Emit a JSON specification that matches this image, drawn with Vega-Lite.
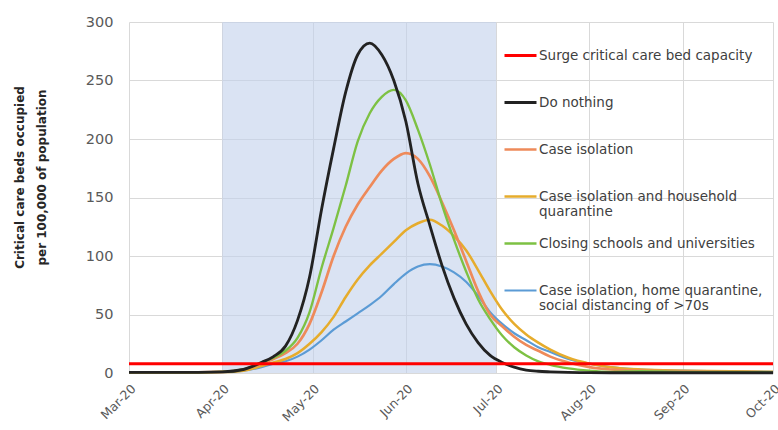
{
  "$schema": "https://vega.github.io/schema/vega-lite/v6.json",
  "width": 644,
  "height": 351,
  "autosize": {"type": "none"},
  "padding": {"left": 129, "top": 22, "right": 5, "bottom": 57},
  "config": {"font": "DejaVu Sans", "view": {"stroke": null}},
  "layer": [
    {
      "data": {"values": [{"a": "2020-04-01", "b": "2020-07-01"}]},
      "mark": {"type": "rect", "color": "#C1D0EB", "opacity": 0.6},
      "encoding": {
        "x": {"field": "a", "type": "temporal", "scale": {"type": "utc"}},
        "x2": {"field": "b"}
      }
    },
    {
      "data": {"values": [
        {"d":"2020-03-01","s":"Case isolation, home quarantine, social distancing of >70s","v":0.3},
        {"d":"2020-03-16","s":"Case isolation, home quarantine, social distancing of >70s","v":0.3},
        {"d":"2020-04-01","s":"Case isolation, home quarantine, social distancing of >70s","v":0.8},
        {"d":"2020-04-08","s":"Case isolation, home quarantine, social distancing of >70s","v":2},
        {"d":"2020-04-14","s":"Case isolation, home quarantine, social distancing of >70s","v":5},
        {"d":"2020-04-18","s":"Case isolation, home quarantine, social distancing of >70s","v":8},
        {"d":"2020-04-22","s":"Case isolation, home quarantine, social distancing of >70s","v":10},
        {"d":"2020-04-26","s":"Case isolation, home quarantine, social distancing of >70s","v":14},
        {"d":"2020-04-30","s":"Case isolation, home quarantine, social distancing of >70s","v":20},
        {"d":"2020-05-04","s":"Case isolation, home quarantine, social distancing of >70s","v":28},
        {"d":"2020-05-08","s":"Case isolation, home quarantine, social distancing of >70s","v":37},
        {"d":"2020-05-12","s":"Case isolation, home quarantine, social distancing of >70s","v":44},
        {"d":"2020-05-16","s":"Case isolation, home quarantine, social distancing of >70s","v":51},
        {"d":"2020-05-20","s":"Case isolation, home quarantine, social distancing of >70s","v":58},
        {"d":"2020-05-24","s":"Case isolation, home quarantine, social distancing of >70s","v":66},
        {"d":"2020-05-28","s":"Case isolation, home quarantine, social distancing of >70s","v":76},
        {"d":"2020-06-01","s":"Case isolation, home quarantine, social distancing of >70s","v":85},
        {"d":"2020-06-05","s":"Case isolation, home quarantine, social distancing of >70s","v":91},
        {"d":"2020-06-09","s":"Case isolation, home quarantine, social distancing of >70s","v":93},
        {"d":"2020-06-13","s":"Case isolation, home quarantine, social distancing of >70s","v":91},
        {"d":"2020-06-17","s":"Case isolation, home quarantine, social distancing of >70s","v":86},
        {"d":"2020-06-21","s":"Case isolation, home quarantine, social distancing of >70s","v":78},
        {"d":"2020-06-25","s":"Case isolation, home quarantine, social distancing of >70s","v":66},
        {"d":"2020-06-29","s":"Case isolation, home quarantine, social distancing of >70s","v":52},
        {"d":"2020-07-03","s":"Case isolation, home quarantine, social distancing of >70s","v":42},
        {"d":"2020-07-07","s":"Case isolation, home quarantine, social distancing of >70s","v":34},
        {"d":"2020-07-11","s":"Case isolation, home quarantine, social distancing of >70s","v":28},
        {"d":"2020-07-15","s":"Case isolation, home quarantine, social distancing of >70s","v":22},
        {"d":"2020-07-19","s":"Case isolation, home quarantine, social distancing of >70s","v":18},
        {"d":"2020-07-25","s":"Case isolation, home quarantine, social distancing of >70s","v":12},
        {"d":"2020-08-01","s":"Case isolation, home quarantine, social distancing of >70s","v":8},
        {"d":"2020-08-08","s":"Case isolation, home quarantine, social distancing of >70s","v":5},
        {"d":"2020-08-18","s":"Case isolation, home quarantine, social distancing of >70s","v":3},
        {"d":"2020-09-01","s":"Case isolation, home quarantine, social distancing of >70s","v":2},
        {"d":"2020-09-17","s":"Case isolation, home quarantine, social distancing of >70s","v":1.5},
        {"d":"2020-10-01","s":"Case isolation, home quarantine, social distancing of >70s","v":1},

        {"d":"2020-03-01","s":"Case isolation and household quarantine","v":0.3},
        {"d":"2020-03-16","s":"Case isolation and household quarantine","v":0.3},
        {"d":"2020-04-01","s":"Case isolation and household quarantine","v":0.8},
        {"d":"2020-04-08","s":"Case isolation and household quarantine","v":2},
        {"d":"2020-04-14","s":"Case isolation and household quarantine","v":6},
        {"d":"2020-04-18","s":"Case isolation and household quarantine","v":9},
        {"d":"2020-04-22","s":"Case isolation and household quarantine","v":12},
        {"d":"2020-04-26","s":"Case isolation and household quarantine","v":17},
        {"d":"2020-04-30","s":"Case isolation and household quarantine","v":25},
        {"d":"2020-05-04","s":"Case isolation and household quarantine","v":35},
        {"d":"2020-05-08","s":"Case isolation and household quarantine","v":48},
        {"d":"2020-05-12","s":"Case isolation and household quarantine","v":65},
        {"d":"2020-05-16","s":"Case isolation and household quarantine","v":80},
        {"d":"2020-05-20","s":"Case isolation and household quarantine","v":92},
        {"d":"2020-05-24","s":"Case isolation and household quarantine","v":102},
        {"d":"2020-05-28","s":"Case isolation and household quarantine","v":112},
        {"d":"2020-06-01","s":"Case isolation and household quarantine","v":122},
        {"d":"2020-06-05","s":"Case isolation and household quarantine","v":128},
        {"d":"2020-06-09","s":"Case isolation and household quarantine","v":131},
        {"d":"2020-06-13","s":"Case isolation and household quarantine","v":126},
        {"d":"2020-06-17","s":"Case isolation and household quarantine","v":117},
        {"d":"2020-06-21","s":"Case isolation and household quarantine","v":105},
        {"d":"2020-06-25","s":"Case isolation and household quarantine","v":88},
        {"d":"2020-06-29","s":"Case isolation and household quarantine","v":70},
        {"d":"2020-07-03","s":"Case isolation and household quarantine","v":54},
        {"d":"2020-07-07","s":"Case isolation and household quarantine","v":42},
        {"d":"2020-07-11","s":"Case isolation and household quarantine","v":33},
        {"d":"2020-07-15","s":"Case isolation and household quarantine","v":26},
        {"d":"2020-07-19","s":"Case isolation and household quarantine","v":20},
        {"d":"2020-07-25","s":"Case isolation and household quarantine","v":13},
        {"d":"2020-08-01","s":"Case isolation and household quarantine","v":8},
        {"d":"2020-08-08","s":"Case isolation and household quarantine","v":5},
        {"d":"2020-08-18","s":"Case isolation and household quarantine","v":3},
        {"d":"2020-09-01","s":"Case isolation and household quarantine","v":2},
        {"d":"2020-09-17","s":"Case isolation and household quarantine","v":1.5},
        {"d":"2020-10-01","s":"Case isolation and household quarantine","v":1},

        {"d":"2020-03-01","s":"Case isolation","v":0.5},
        {"d":"2020-03-16","s":"Case isolation","v":0.5},
        {"d":"2020-04-01","s":"Case isolation","v":1},
        {"d":"2020-04-08","s":"Case isolation","v":3},
        {"d":"2020-04-14","s":"Case isolation","v":8},
        {"d":"2020-04-18","s":"Case isolation","v":12},
        {"d":"2020-04-22","s":"Case isolation","v":17},
        {"d":"2020-04-26","s":"Case isolation","v":25},
        {"d":"2020-04-30","s":"Case isolation","v":42},
        {"d":"2020-05-04","s":"Case isolation","v":69},
        {"d":"2020-05-08","s":"Case isolation","v":100},
        {"d":"2020-05-12","s":"Case isolation","v":125},
        {"d":"2020-05-16","s":"Case isolation","v":144},
        {"d":"2020-05-20","s":"Case isolation","v":159},
        {"d":"2020-05-24","s":"Case isolation","v":173},
        {"d":"2020-05-28","s":"Case isolation","v":183},
        {"d":"2020-06-01","s":"Case isolation","v":188},
        {"d":"2020-06-05","s":"Case isolation","v":183},
        {"d":"2020-06-09","s":"Case isolation","v":168},
        {"d":"2020-06-13","s":"Case isolation","v":146},
        {"d":"2020-06-17","s":"Case isolation","v":122},
        {"d":"2020-06-21","s":"Case isolation","v":96},
        {"d":"2020-06-25","s":"Case isolation","v":70},
        {"d":"2020-06-29","s":"Case isolation","v":50},
        {"d":"2020-07-03","s":"Case isolation","v":40},
        {"d":"2020-07-07","s":"Case isolation","v":31},
        {"d":"2020-07-11","s":"Case isolation","v":24},
        {"d":"2020-07-15","s":"Case isolation","v":19},
        {"d":"2020-07-19","s":"Case isolation","v":14},
        {"d":"2020-07-25","s":"Case isolation","v":9},
        {"d":"2020-08-01","s":"Case isolation","v":5},
        {"d":"2020-08-08","s":"Case isolation","v":3},
        {"d":"2020-08-18","s":"Case isolation","v":2},
        {"d":"2020-09-01","s":"Case isolation","v":1.5},
        {"d":"2020-09-17","s":"Case isolation","v":1},
        {"d":"2020-10-01","s":"Case isolation","v":0.5},

        {"d":"2020-03-01","s":"Closing schools and universities","v":0.5},
        {"d":"2020-03-16","s":"Closing schools and universities","v":0.5},
        {"d":"2020-04-01","s":"Closing schools and universities","v":1},
        {"d":"2020-04-08","s":"Closing schools and universities","v":3},
        {"d":"2020-04-14","s":"Closing schools and universities","v":9},
        {"d":"2020-04-18","s":"Closing schools and universities","v":13},
        {"d":"2020-04-22","s":"Closing schools and universities","v":19},
        {"d":"2020-04-26","s":"Closing schools and universities","v":30},
        {"d":"2020-04-30","s":"Closing schools and universities","v":52},
        {"d":"2020-05-04","s":"Closing schools and universities","v":90},
        {"d":"2020-05-08","s":"Closing schools and universities","v":124},
        {"d":"2020-05-12","s":"Closing schools and universities","v":160},
        {"d":"2020-05-16","s":"Closing schools and universities","v":198},
        {"d":"2020-05-20","s":"Closing schools and universities","v":222},
        {"d":"2020-05-24","s":"Closing schools and universities","v":236},
        {"d":"2020-05-28","s":"Closing schools and universities","v":242},
        {"d":"2020-06-01","s":"Closing schools and universities","v":233},
        {"d":"2020-06-05","s":"Closing schools and universities","v":208},
        {"d":"2020-06-09","s":"Closing schools and universities","v":178},
        {"d":"2020-06-13","s":"Closing schools and universities","v":144},
        {"d":"2020-06-17","s":"Closing schools and universities","v":114},
        {"d":"2020-06-21","s":"Closing schools and universities","v":87},
        {"d":"2020-06-25","s":"Closing schools and universities","v":63},
        {"d":"2020-06-29","s":"Closing schools and universities","v":46},
        {"d":"2020-07-03","s":"Closing schools and universities","v":32},
        {"d":"2020-07-07","s":"Closing schools and universities","v":22},
        {"d":"2020-07-11","s":"Closing schools and universities","v":15},
        {"d":"2020-07-15","s":"Closing schools and universities","v":10},
        {"d":"2020-07-19","s":"Closing schools and universities","v":7},
        {"d":"2020-07-25","s":"Closing schools and universities","v":4},
        {"d":"2020-08-01","s":"Closing schools and universities","v":2},
        {"d":"2020-08-08","s":"Closing schools and universities","v":1},
        {"d":"2020-08-18","s":"Closing schools and universities","v":1.5},
        {"d":"2020-09-01","s":"Closing schools and universities","v":1},
        {"d":"2020-09-17","s":"Closing schools and universities","v":1},
        {"d":"2020-10-01","s":"Closing schools and universities","v":0.5},

        {"d":"2020-03-01","s":"Do nothing","v":0.5},
        {"d":"2020-03-16","s":"Do nothing","v":0.5},
        {"d":"2020-04-01","s":"Do nothing","v":1},
        {"d":"2020-04-08","s":"Do nothing","v":3},
        {"d":"2020-04-14","s":"Do nothing","v":9},
        {"d":"2020-04-18","s":"Do nothing","v":14},
        {"d":"2020-04-22","s":"Do nothing","v":23},
        {"d":"2020-04-26","s":"Do nothing","v":45},
        {"d":"2020-04-30","s":"Do nothing","v":82},
        {"d":"2020-05-04","s":"Do nothing","v":140},
        {"d":"2020-05-08","s":"Do nothing","v":192},
        {"d":"2020-05-12","s":"Do nothing","v":240},
        {"d":"2020-05-16","s":"Do nothing","v":272},
        {"d":"2020-05-20","s":"Do nothing","v":282},
        {"d":"2020-05-24","s":"Do nothing","v":272},
        {"d":"2020-05-28","s":"Do nothing","v":250},
        {"d":"2020-06-01","s":"Do nothing","v":215},
        {"d":"2020-06-05","s":"Do nothing","v":162},
        {"d":"2020-06-09","s":"Do nothing","v":126},
        {"d":"2020-06-13","s":"Do nothing","v":92},
        {"d":"2020-06-17","s":"Do nothing","v":64},
        {"d":"2020-06-21","s":"Do nothing","v":42},
        {"d":"2020-06-25","s":"Do nothing","v":26},
        {"d":"2020-06-29","s":"Do nothing","v":15},
        {"d":"2020-07-03","s":"Do nothing","v":9},
        {"d":"2020-07-07","s":"Do nothing","v":5},
        {"d":"2020-07-11","s":"Do nothing","v":2.5},
        {"d":"2020-07-15","s":"Do nothing","v":1.5},
        {"d":"2020-07-19","s":"Do nothing","v":1},
        {"d":"2020-07-25","s":"Do nothing","v":0.5},
        {"d":"2020-08-01","s":"Do nothing","v":0.3},
        {"d":"2020-08-08","s":"Do nothing","v":0.2},
        {"d":"2020-08-18","s":"Do nothing","v":0.2},
        {"d":"2020-09-01","s":"Do nothing","v":0.2},
        {"d":"2020-09-17","s":"Do nothing","v":0.2},
        {"d":"2020-10-01","s":"Do nothing","v":0.2},

        {"d":"2020-03-01","s":"Surge critical care bed capacity","v":8},
        {"d":"2020-10-01","s":"Surge critical care bed capacity","v":8}
      ]},
      "mark": {"type": "line", "interpolate": "monotone"},
      "encoding": {
        "x": {
          "field": "d", "type": "temporal", "scale": {"type": "utc"},
          "axis": {
            "title": null, "format": "%b-%y", "labelAngle": -45,
            "values": [
              {"year": 2020, "month": 3, "date": 1, "utc": true},
              {"year": 2020, "month": 4, "date": 1, "utc": true},
              {"year": 2020, "month": 5, "date": 1, "utc": true},
              {"year": 2020, "month": 6, "date": 1, "utc": true},
              {"year": 2020, "month": 7, "date": 1, "utc": true},
              {"year": 2020, "month": 8, "date": 1, "utc": true},
              {"year": 2020, "month": 9, "date": 1, "utc": true},
              {"year": 2020, "month": 10, "date": 1, "utc": true}
            ],
            "labelFontSize": 12.5, "labelColor": "#595959", "labelPadding": 9, "labelOffset": 0,
            "ticks": false, "domain": false, "grid": true, "gridColor": "#D9D9D9"
          }
        },
        "y": {
          "field": "v", "type": "quantitative",
          "scale": {"domain": [0, 300], "nice": false},
          "axis": {
            "values": [0, 50, 100, 150, 200, 250, 300],
            "title": ["Critical care beds occupied", "per 100,000 of population"],
            "titleFontWeight": "bold", "titleFontSize": 12, "titleColor": "#262626",
            "titleAngle": -90, "titleX": -115, "titleY": 155, "titleAlign": "center",
            "titleBaseline": "top", "titleLineHeight": 22,
            "labelFontSize": 14.5, "labelColor": "#595959", "labelPadding": 16,
            "ticks": false, "domain": false, "gridColor": "#D9D9D9"
          }
        },
        "color": {
          "field": "s", "type": "nominal",
          "scale": {
            "domain": ["Surge critical care bed capacity", "Do nothing", "Case isolation", "Case isolation and household quarantine", "Closing schools and universities", "Case isolation, home quarantine, social distancing of >70s"],
            "range": ["#FF0000", "#222222", "#EE8A5A", "#E6AC2C", "#7DC143", "#5B9BD5"]
          },
          "legend": {
            "orient": "none", "legendX": 374, "legendY": 16, "title": null,
            "symbolType": "stroke", "symbolSize": 1024, "symbolStrokeWidth": 2,
            "labelFontSize": 13.5, "labelColor": "#404040", "labelLimit": 320,
            "labelOffset": 1, "rowPadding": 7, "gridAlign": "all", "padding": 0,
            "labelExpr": "datum.label == 'Case isolation and household quarantine' ? ['Case isolation and household', 'quarantine'] : datum.label == 'Case isolation, home quarantine, social distancing of >70s' ? ['Case isolation, home quarantine,', 'social distancing of >70s'] : datum.label"
          }
        },
        "strokeWidth": {
          "field": "s", "type": "nominal", "legend": null,
          "scale": {
            "domain": ["Surge critical care bed capacity", "Do nothing", "Case isolation", "Case isolation and household quarantine", "Closing schools and universities", "Case isolation, home quarantine, social distancing of >70s"],
            "range": [3, 2.2, 1.8, 1.8, 1.8, 1.8]
          }
        }
      }
    }
  ]
}
